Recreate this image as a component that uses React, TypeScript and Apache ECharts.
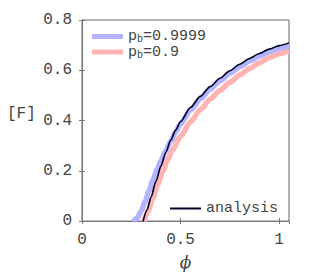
import React, { useEffect, useRef } from "react";
import * as echarts from "echarts";

const phiAnalysis = [0.31, 0.33, 0.35, 0.375, 0.40, 0.425, 0.45, 0.475, 0.5, 0.55, 0.6, 0.65, 0.7, 0.75, 0.8, 0.85, 0.9, 0.95, 1.0, 1.05];
const fAnalysis = [0, 0.045, 0.095, 0.158, 0.218, 0.274, 0.322, 0.362, 0.396, 0.452, 0.496, 0.535, 0.568, 0.598, 0.624, 0.647, 0.667, 0.684, 0.698, 0.709];

const phiHigh = [0.26, 0.28, 0.30, 0.32, 0.34, 0.36, 0.38, 0.40, 0.425, 0.45, 0.475, 0.5, 0.55, 0.6, 0.65, 0.7, 0.75, 0.8, 0.85, 0.9, 0.95, 1.0, 1.05];
const fHigh = [0, 0.012, 0.04, 0.078, 0.12, 0.163, 0.203, 0.24, 0.28, 0.317, 0.354, 0.387, 0.442, 0.486, 0.525, 0.558, 0.588, 0.614, 0.637, 0.657, 0.674, 0.688, 0.70];

const phiLow = [0.315, 0.335, 0.36, 0.385, 0.41, 0.435, 0.46, 0.5, 0.55, 0.6, 0.65, 0.7, 0.75, 0.8, 0.85, 0.9, 0.95, 1.0, 1.05];
const fLow = [0, 0.04, 0.093, 0.148, 0.199, 0.245, 0.285, 0.337, 0.394, 0.443, 0.485, 0.52, 0.552, 0.581, 0.607, 0.63, 0.65, 0.666, 0.679];

const xTicks = [0, 0.5, 1];
const yTicks = [0, 0.2, 0.4, 0.6, 0.8];

const zip = (xs: number[], ys: number[]) => xs.map((x, i) => [x, ys[i]]);

const MONO = "'Liberation Mono', 'DejaVu Sans Mono', monospace";
const TXT = "#444";

export default function App() {
  const ref = useRef<HTMLDivElement>(null);
  useEffect(() => {
    if (!ref.current) return;
    const chart = echarts.init(ref.current, undefined, { renderer: "svg" });
    const fmtX = (v: number) => (xTicks.includes(Math.round(v * 100) / 100) ? String(v) : "");
    const fmtY = (v: number) => (yTicks.includes(Math.round(v * 100) / 100) ? String(Math.round(v * 10) / 10) : "");
    const axisLine = { show: true, lineStyle: { color: "#777", width: 1 } };
    const tick = { show: true, inside: true, length: 3, lineStyle: { color: "#777" } };
    const legendText = {
      fontFamily: MONO,
      fontSize: 15,
      color: TXT,
      rich: {
        sub: { fontFamily: MONO, fontSize: 10, color: TXT, verticalAlign: "bottom", padding: [6, 0, 0, 0] },
        n: { fontFamily: MONO, fontSize: 15, color: TXT },
      },
    };
    const smoothOpts = { smooth: 0.25, smoothMonotone: "x" };
    chart.setOption({
      animation: false,
      backgroundColor: "#fff",
      grid: { left: 82, right: 31, top: 20, bottom: 52, show: true, borderColor: "#666", borderWidth: 1 },
      xAxis: [
        {
          type: "value", min: 0, max: 1.05, interval: 0.5,
          axisLine, axisTick: tick, splitLine: { show: false },
          axisLabel: { formatter: fmtX, fontFamily: MONO, fontSize: 16, color: TXT, margin: 11, showMaxLabel: false },
          name: "\u03D5", nameLocation: "middle", nameGap: 30,
          nameTextStyle: { fontFamily: "'DejaVu Serif', serif", fontStyle: "italic", fontSize: 17, color: TXT },
        },
        {
          type: "value", position: "top", min: 0, max: 1.05, interval: 0.5,
          axisLine, axisTick: tick, axisLabel: { show: false }, splitLine: { show: false },
        },
      ],
      yAxis: [
        {
          type: "value", min: 0, max: 0.8, interval: 0.2,
          axisLine, axisTick: tick, splitLine: { show: false },
          axisLabel: { formatter: fmtY, fontFamily: MONO, fontSize: 16, color: TXT, margin: 10 },
        },
        {
          type: "value", position: "right", min: 0, max: 0.8, interval: 0.2,
          axisLine, axisTick: tick, axisLabel: { show: false }, splitLine: { show: false },
        },
      ],
      legend: [
        {
          data: [
            { name: "p_b=0.9999", icon: "rect" },
            { name: "p_b=0.9", icon: "rect" },
          ],
          left: 92, top: 29, orient: "vertical", itemWidth: 31, itemHeight: 5, itemGap: 0, padding: 0,
          textStyle: legendText,
          formatter: (name: string) => name.replace("p_b", "{n|p}{sub|b}"),
        },
        {
          data: [{ name: "analysis", icon: "rect" }],
          left: 170, top: 201, itemWidth: 31, itemHeight: 2, padding: 0,
          textStyle: { fontFamily: MONO, fontSize: 15, color: TXT },
        },
      ],
      graphic: [
        {
          type: "text", left: 7, top: 106,
          style: { text: "[F]", fontFamily: MONO, fontSize: 16, fill: TXT },
        },
      ],
      series: [
        {
          name: "p_b=0.9999", type: "line", data: zip(phiHigh, fHigh), showSymbol: false, symbol: "none",
          ...smoothOpts, lineStyle: { color: "#b3b3ff", width: 5.5 }, itemStyle: { color: "#b3b3ff" }, z: 2,
        },
        {
          name: "p_b=0.9", type: "line", data: zip(phiLow, fLow), showSymbol: false, symbol: "none",
          ...smoothOpts, lineStyle: { color: "#ffb3b3", width: 5.5 }, itemStyle: { color: "#ffb3b3" }, z: 1,
        },
        {
          name: "analysis", type: "line", data: zip(phiAnalysis, fAnalysis), showSymbol: false, symbol: "none",
          ...smoothOpts, lineStyle: { color: "#000022", width: 1.6 }, itemStyle: { color: "#000022" }, z: 3,
        },
      ],
    });
    return () => chart.dispose();
  }, []);
  return <div ref={ref} style={{ width: 320, height: 275, position: "absolute", left: 0, top: 0 }} />;
}
